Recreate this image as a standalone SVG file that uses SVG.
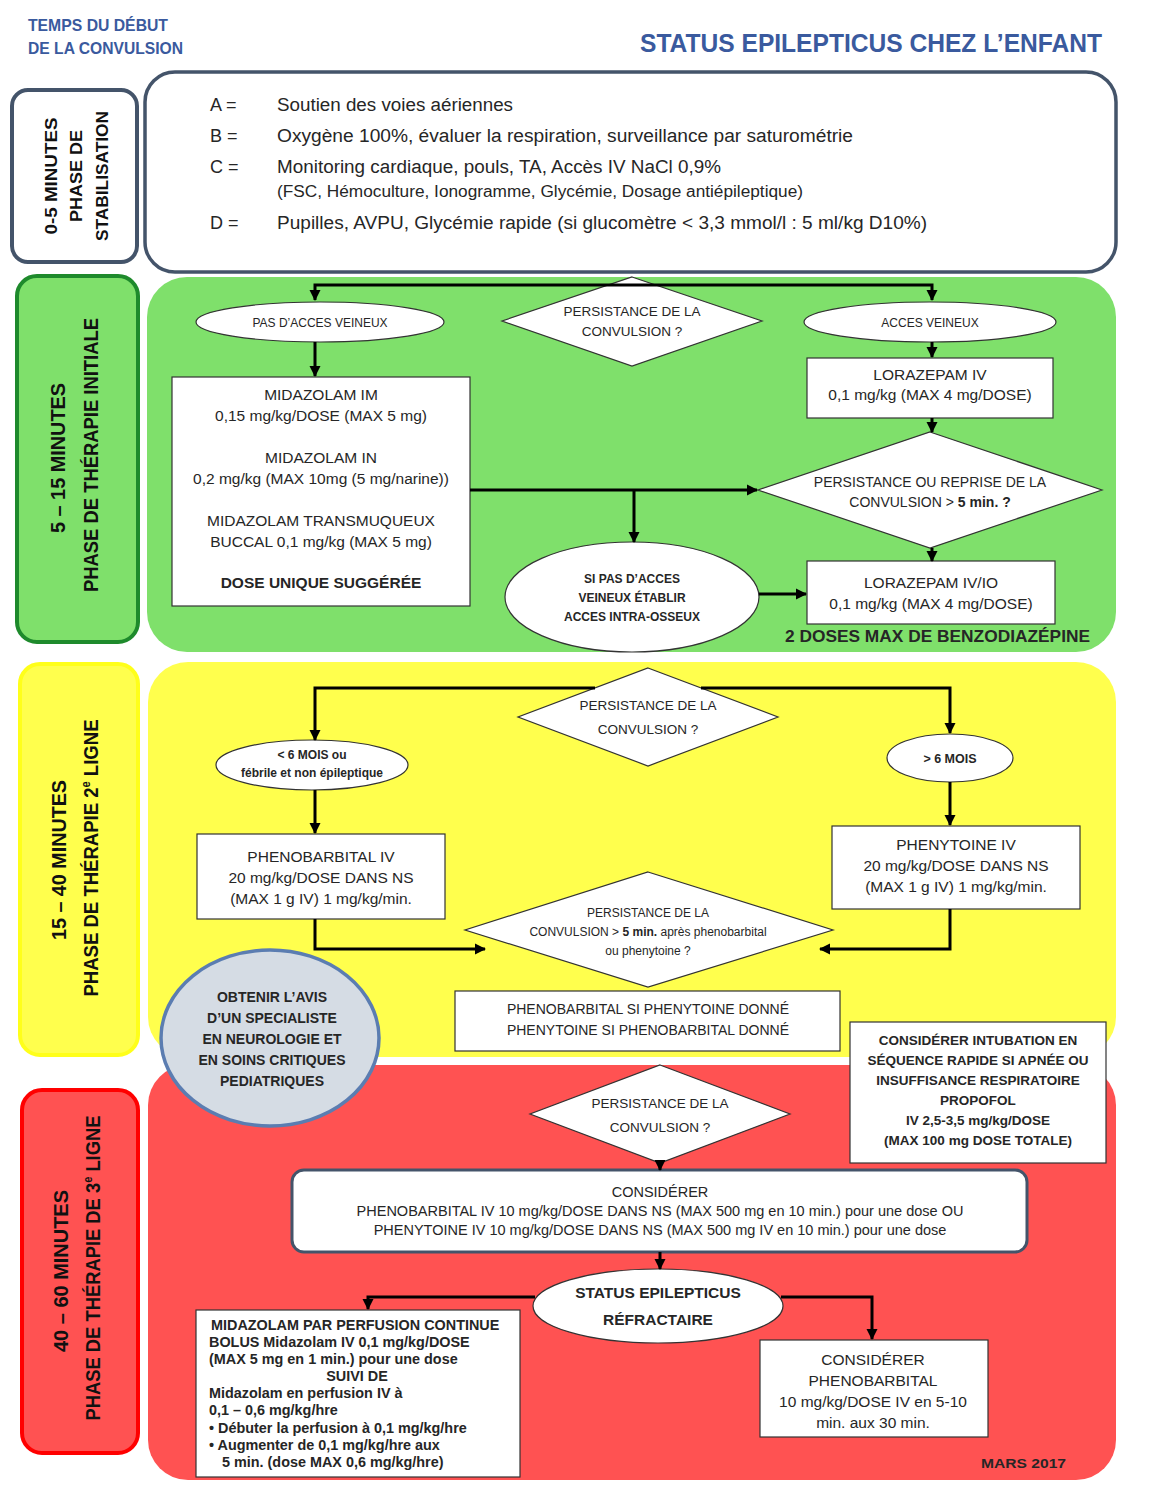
<svg xmlns="http://www.w3.org/2000/svg" width="1155" height="1496" viewBox="0 0 1155 1496">
<defs>
<style>
text{font-family:'Liberation Sans',Arial,sans-serif;fill:#262626}
.c{text-anchor:middle}
.b{font-weight:bold}
.hd{fill:#3A5A9E;font-weight:bold}
.side{font-weight:bold;fill:#111;text-anchor:middle}
.box{fill:#fff;stroke:#333;stroke-width:1.2}
.node{fill:#fff;stroke:#333;stroke-width:1.2}
.con{fill:none;stroke:#000;stroke-width:3}
.f15{font-size:15.5px}
.f14{font-size:14px}
.f13{font-size:13.5px}
.f12{font-size:12px}
</style>
<marker id="ah" markerWidth="12" markerHeight="12" refX="10" refY="6" orient="auto" markerUnits="userSpaceOnUse"><path d="M0,0.5 L11,6 L0,11.5 z" fill="#000"/></marker>
</defs>
<rect width="1155" height="1496" fill="#fff"/>

<g id="header">
<text class="hd" x="28" y="31" font-size="17" textLength="140" lengthAdjust="spacingAndGlyphs">TEMPS DU DÉBUT</text>
<text class="hd" x="28" y="54" font-size="17" textLength="155" lengthAdjust="spacingAndGlyphs">DE LA CONVULSION</text>
<text class="hd" x="640" y="52" font-size="25" textLength="462" lengthAdjust="spacingAndGlyphs">STATUS EPILEPTICUS CHEZ L’ENFANT</text>
</g>

<!-- Phase panels -->
<g id="phase-stabilisation">
<rect x="12" y="90" width="125" height="172" rx="16" fill="#fff" stroke="#44546A" stroke-width="4"/>
<text class="side" transform="translate(57,176) rotate(-90)" font-size="16" textLength="117" lengthAdjust="spacingAndGlyphs">0-5 MINUTES</text>
<text class="side" transform="translate(82,176) rotate(-90)" font-size="16" textLength="92" lengthAdjust="spacingAndGlyphs">PHASE DE</text>
<text class="side" transform="translate(108,176) rotate(-90)" font-size="16" textLength="130" lengthAdjust="spacingAndGlyphs">STABILISATION</text>
</g>
<g id="abcd">
<rect x="145" y="72" width="971" height="200" rx="30" fill="#fff" stroke="#44546A" stroke-width="3.5"/>
<text x="210" y="111" font-size="18">A =</text>
<text x="277" y="111" font-size="18" textLength="236" lengthAdjust="spacingAndGlyphs">Soutien des voies aériennes</text>
<text x="210" y="142" font-size="18">B =</text>
<text x="277" y="142" font-size="18" textLength="576" lengthAdjust="spacingAndGlyphs">Oxygène 100%, évaluer la respiration, surveillance par saturométrie</text>
<text x="210" y="173" font-size="18">C =</text>
<text x="277" y="173" font-size="18" textLength="444" lengthAdjust="spacingAndGlyphs">Monitoring cardiaque, pouls, TA, Accès IV NaCl 0,9%</text>
<text x="277" y="197" font-size="16" textLength="526" lengthAdjust="spacingAndGlyphs">(FSC, Hémoculture, Ionogramme, Glycémie, Dosage antiépileptique)</text>
<text x="210" y="229" font-size="18">D =</text>
<text x="277" y="229" font-size="18" textLength="650" lengthAdjust="spacingAndGlyphs">Pupilles, AVPU, Glycémie rapide (si glucomètre &lt; 3,3 mmol/l : 5 ml/kg D10%)</text>
</g>

<g id="phase-initiale">
<rect x="17" y="276" width="121" height="366" rx="20" fill="#7FE06B" stroke="#1E8A2C" stroke-width="4"/>
<text class="side" transform="translate(65,458) rotate(-90)" font-size="20" textLength="150" lengthAdjust="spacingAndGlyphs">5 – 15  MINUTES</text>
<text class="side" transform="translate(98,455) rotate(-90)" font-size="20" textLength="274" lengthAdjust="spacingAndGlyphs">PHASE DE THÉRAPIE INITIALE</text>
<rect x="147" y="277" width="969" height="375" rx="40" fill="#7FE06B"/>
</g>

<g id="phase-2e-ligne">
<rect x="20" y="664" width="118" height="391" rx="20" fill="#FFFF4D" stroke="#FFFF1A" stroke-width="4"/>
<text class="side" transform="translate(66,860) rotate(-90)" font-size="20" textLength="160" lengthAdjust="spacingAndGlyphs">15 – 40 MINUTES</text>
<text class="side" transform="translate(98,858) rotate(-90)" font-size="20" textLength="277" lengthAdjust="spacingAndGlyphs">PHASE DE THÉRAPIE 2<tspan font-size="12" dy="-8">e</tspan><tspan dy="8"> LIGNE</tspan></text>
<rect x="148" y="662" width="968" height="395" rx="40" fill="#FFFF4D"/>
</g>

<g id="phase-3e-ligne">
<rect x="22" y="1090" width="116" height="363" rx="20" fill="#FF5252" stroke="#FF0000" stroke-width="4"/>
<text class="side" transform="translate(68,1271) rotate(-90)" font-size="20" textLength="162" lengthAdjust="spacingAndGlyphs">40 – 60 MINUTES</text>
<text class="side" transform="translate(100,1268) rotate(-90)" font-size="20" textLength="305" lengthAdjust="spacingAndGlyphs">PHASE DE THÉRAPIE DE 3<tspan font-size="12" dy="-8">e</tspan><tspan dy="8"> LIGNE</tspan></text>
<rect x="148" y="1065" width="968" height="415" rx="40" fill="#FF5252"/>
</g>

<!-- Green nodes -->
<g id="g-persistance">
<polygon class="node" points="632,277 762,321 632,366 502,321"/>
<text class="c f13" x="632" y="316">PERSISTANCE DE LA</text>
<text class="c f13" x="632" y="336">CONVULSION ?</text>
</g>
<g id="g-pas-acces">
<ellipse class="node" cx="320" cy="322" rx="124" ry="20"/>
<text class="c" x="320" y="327" font-size="12">PAS D’ACCES VEINEUX</text>
</g>
<g id="g-acces">
<ellipse class="node" cx="930" cy="322" rx="126" ry="20"/>
<text class="c" x="930" y="327" font-size="12">ACCES VEINEUX</text>
</g>
<g id="g-midazolam">
<rect class="box" x="172" y="377" width="298" height="229"/>
<text class="c f15" x="321" y="400">MIDAZOLAM IM</text>
<text class="c f15" x="321" y="421">0,15 mg/kg/DOSE (MAX 5 mg)</text>
<text class="c f15" x="321" y="463">MIDAZOLAM IN</text>
<text class="c f15" x="321" y="484">0,2 mg/kg (MAX 10mg (5 mg/narine))</text>
<text class="c f15" x="321" y="526">MIDAZOLAM TRANSMUQUEUX</text>
<text class="c f15" x="321" y="547">BUCCAL 0,1 mg/kg (MAX 5 mg)</text>
<text class="c f15 b" x="321" y="588">DOSE UNIQUE SUGGÉRÉE</text>
</g>
<g id="g-lorazepam">
<rect class="box" x="807" y="358" width="246" height="60"/>
<text class="c f15" x="930" y="380">LORAZEPAM IV</text>
<text class="c f15" x="930" y="400">0,1 mg/kg (MAX 4 mg/DOSE)</text>
</g>
<g id="g-reprise">
<polygon class="node" points="930,432 1102,490 930,548 758,490"/>
<text class="c" x="930" y="487" font-size="14">PERSISTANCE OU REPRISE DE LA</text>
<text class="c" x="930" y="507" font-size="14">CONVULSION &gt; <tspan class="b">5 min. ?</tspan></text>
</g>
<g id="g-intraosseux">
<ellipse class="node" cx="632" cy="597" rx="127" ry="55"/>
<text class="c b f12" x="632" y="583">SI PAS D’ACCES</text>
<text class="c b f12" x="632" y="602">VEINEUX ÉTABLIR</text>
<text class="c b f12" x="632" y="621">ACCES INTRA-OSSEUX</text>
</g>
<g id="g-lorazepam-io">
<rect class="box" x="807" y="561" width="248" height="63"/>
<text class="c f15" x="931" y="588">LORAZEPAM IV/IO</text>
<text class="c f15" x="931" y="609">0,1 mg/kg (MAX 4 mg/DOSE)</text>
</g>
<g id="g-note">
<text class="b" x="785" y="642" font-size="17" fill="#111" textLength="305" lengthAdjust="spacingAndGlyphs">2 DOSES MAX DE BENZODIAZÉPINE</text>
</g>

<!-- Yellow nodes -->
<g id="y-persistance">
<polygon class="node" points="648,668 778,717 648,766 518,717"/>
<text class="c f13" x="648" y="710">PERSISTANCE DE LA</text>
<text class="c f13" x="648" y="734">CONVULSION ?</text>
</g>
<g id="y-moins6">
<ellipse class="node" cx="312" cy="765" rx="96" ry="25"/>
<text class="c b" x="312" y="759" font-size="12">&lt; 6 MOIS ou</text>
<text class="c b" x="312" y="777" font-size="12">fébrile et non épileptique</text>
</g>
<g id="y-plus6">
<ellipse class="node" cx="950" cy="758" rx="63" ry="24"/>
<text class="c b" x="950" y="763" font-size="12.5">&gt; 6 MOIS</text>
</g>
<g id="y-phenobarbital">
<rect class="box" x="197" y="834" width="248" height="85"/>
<text class="c f15" x="321" y="862">PHENOBARBITAL IV</text>
<text class="c f15" x="321" y="883">20 mg/kg/DOSE DANS NS</text>
<text class="c f15" x="321" y="904">(MAX 1 g IV) 1 mg/kg/min.</text>
</g>
<g id="y-phenytoine">
<rect class="box" x="832" y="826" width="248" height="83"/>
<text class="c f15" x="956" y="850">PHENYTOINE IV</text>
<text class="c f15" x="956" y="871">20 mg/kg/DOSE DANS NS</text>
<text class="c f15" x="956" y="892">(MAX 1 g IV) 1 mg/kg/min.</text>
</g>
<g id="y-persistance-5min">
<polygon class="node" points="648,872 833,930 648,987 465,930"/>
<text class="c f12" x="648" y="917">PERSISTANCE  DE LA</text>
<text class="c f12" x="648" y="936">CONVULSION &gt; <tspan class="b">5 min.</tspan> après phenobarbital</text>
<text class="c f12" x="648" y="955">ou phenytoine ?</text>
</g>
<g id="y-alternance">
<rect class="box" x="455" y="991" width="385" height="60"/>
<text class="c f14" x="648" y="1014">PHENOBARBITAL SI PHENYTOINE DONNÉ</text>
<text class="c f14" x="648" y="1035">PHENYTOINE SI PHENOBARBITAL DONNÉ</text>
</g>
<g id="avis-specialiste">
<ellipse cx="270" cy="1038" rx="109" ry="88" fill="#D5DCE4" stroke="#5B7DB1" stroke-width="3.5"/>
<text class="c b f14" x="272" y="1002">OBTENIR L’AVIS</text>
<text class="c b f14" x="272" y="1023">D’UN SPECIALISTE</text>
<text class="c b f14" x="272" y="1044">EN NEUROLOGIE ET</text>
<text class="c b f14" x="272" y="1065">EN SOINS CRITIQUES</text>
<text class="c b f14" x="272" y="1086">PEDIATRIQUES</text>
</g>
<g id="intubation">
<rect class="box" x="850" y="1022" width="256" height="141"/>
<text class="c b f13" x="978" y="1045">CONSIDÉRER INTUBATION EN</text>
<text class="c b f13" x="978" y="1065">SÉQUENCE RAPIDE SI APNÉE OU</text>
<text class="c b f13" x="978" y="1085">INSUFFISANCE RESPIRATOIRE</text>
<text class="c b f13" x="978" y="1105">PROPOFOL</text>
<text class="c b f13" x="978" y="1125">IV 2,5-3,5 mg/kg/DOSE</text>
<text class="c b f13" x="978" y="1145">(MAX 100 mg DOSE TOTALE)</text>
</g>

<!-- Red nodes -->
<g id="r-persistance">
<polygon class="node" points="660,1065 790,1114 660,1163 530,1114"/>
<text class="c f13" x="660" y="1108">PERSISTANCE DE LA</text>
<text class="c f13" x="660" y="1132">CONVULSION ?</text>
</g>
<g id="r-considerer">
<rect x="292" y="1170" width="735" height="82" rx="12" fill="#fff" stroke="#44546A" stroke-width="3"/>
<text class="c" x="660" y="1197" font-size="14.5">CONSIDÉRER</text>
<text class="c" x="660" y="1216" font-size="14.5">PHENOBARBITAL IV 10 mg/kg/DOSE DANS NS (MAX 500 mg en 10 min.) pour une dose OU</text>
<text class="c" x="660" y="1235" font-size="14.5">PHENYTOINE IV 10 mg/kg/DOSE DANS NS (MAX 500 mg IV en 10 min.) pour une dose</text>
</g>
<g id="r-refractaire">
<ellipse class="node" cx="658" cy="1306" rx="125" ry="37"/>
<text class="c b" x="658" y="1298" font-size="15.5">STATUS EPILEPTICUS</text>
<text class="c b" x="658" y="1325" font-size="15.5">RÉFRACTAIRE</text>
</g>
<g id="r-midazolam-perfusion">
<rect class="box" x="196" y="1310" width="324" height="167"/>
<text class="b" font-size="14.4" x="211" y="1330">MIDAZOLAM PAR PERFUSION CONTINUE</text>
<text class="b" font-size="14.4" x="209" y="1347">BOLUS Midazolam  IV 0,1 mg/kg/DOSE</text>
<text class="b" font-size="14.4" x="209" y="1364">(MAX 5 mg en 1 min.) pour une dose</text>
<text class="b c" font-size="14.4" x="357" y="1381">SUIVI DE</text>
<text class="b" font-size="14.4" x="209" y="1398">Midazolam  en perfusion IV à</text>
<text class="b" font-size="14.4" x="209" y="1415">0,1 – 0,6 mg/kg/hre</text>
<text class="b" font-size="14.4" x="209" y="1433">• Débuter la perfusion à 0,1 mg/kg/hre</text>
<text class="b" font-size="14.4" x="209" y="1450">• Augmenter de 0,1 mg/kg/hre aux</text>
<text class="b" font-size="14.4" x="222" y="1467">5 min.  (dose MAX 0,6 mg/kg/hre)</text>
</g>
<g id="r-phenobarbital">
<rect class="box" x="760" y="1340" width="228" height="97"/>
<text class="c f15" x="873" y="1365">CONSIDÉRER</text>
<text class="c f15" x="873" y="1386">PHENOBARBITAL</text>
<text class="c f15" x="873" y="1407">10 mg/kg/DOSE IV en 5-10</text>
<text class="c f15" x="873" y="1428">min. aux 30 min.</text>
</g>
<g id="date">
<text class="b" x="981" y="1468" font-size="13.5" fill="#3A5A9E" textLength="85" lengthAdjust="spacingAndGlyphs">MARS  2017</text>
</g>

<g id="connectors">
<path class="con" d="M632,285 H315 V300" marker-end="url(#ah)"/>
<path class="con" d="M632,285 H932 V300" marker-end="url(#ah)"/>
<path class="con" d="M315,342 V376" marker-end="url(#ah)"/>
<path class="con" d="M932,342 V357" marker-end="url(#ah)"/>
<path class="con" d="M932,418 V432" marker-end="url(#ah)"/>
<path class="con" d="M470,490 H757" marker-end="url(#ah)"/>
<path class="con" d="M634,490 V542" marker-end="url(#ah)"/>
<path class="con" d="M932,548 V561" marker-end="url(#ah)"/>
<path class="con" d="M759,594 H806" marker-end="url(#ah)"/>
<path class="con" d="M595,688 H315 V740" marker-end="url(#ah)"/>
<path class="con" d="M701,688 H950 V733" marker-end="url(#ah)"/>
<path class="con" d="M315,790 V833" marker-end="url(#ah)"/>
<path class="con" d="M950,782 V825" marker-end="url(#ah)"/>
<path class="con" d="M315,919 V949 H485" marker-end="url(#ah)"/>
<path class="con" d="M950,909 V949 H820" marker-end="url(#ah)"/>
<path class="con" d="M660,1163 V1170" marker-end="url(#ah)"/>
<path class="con" d="M660,1252 V1269" marker-end="url(#ah)"/>
<path class="con" d="M535,1297 H368 V1309" marker-end="url(#ah)"/>
<path class="con" d="M781,1297 H872 V1339" marker-end="url(#ah)"/>
</g>
</svg>
